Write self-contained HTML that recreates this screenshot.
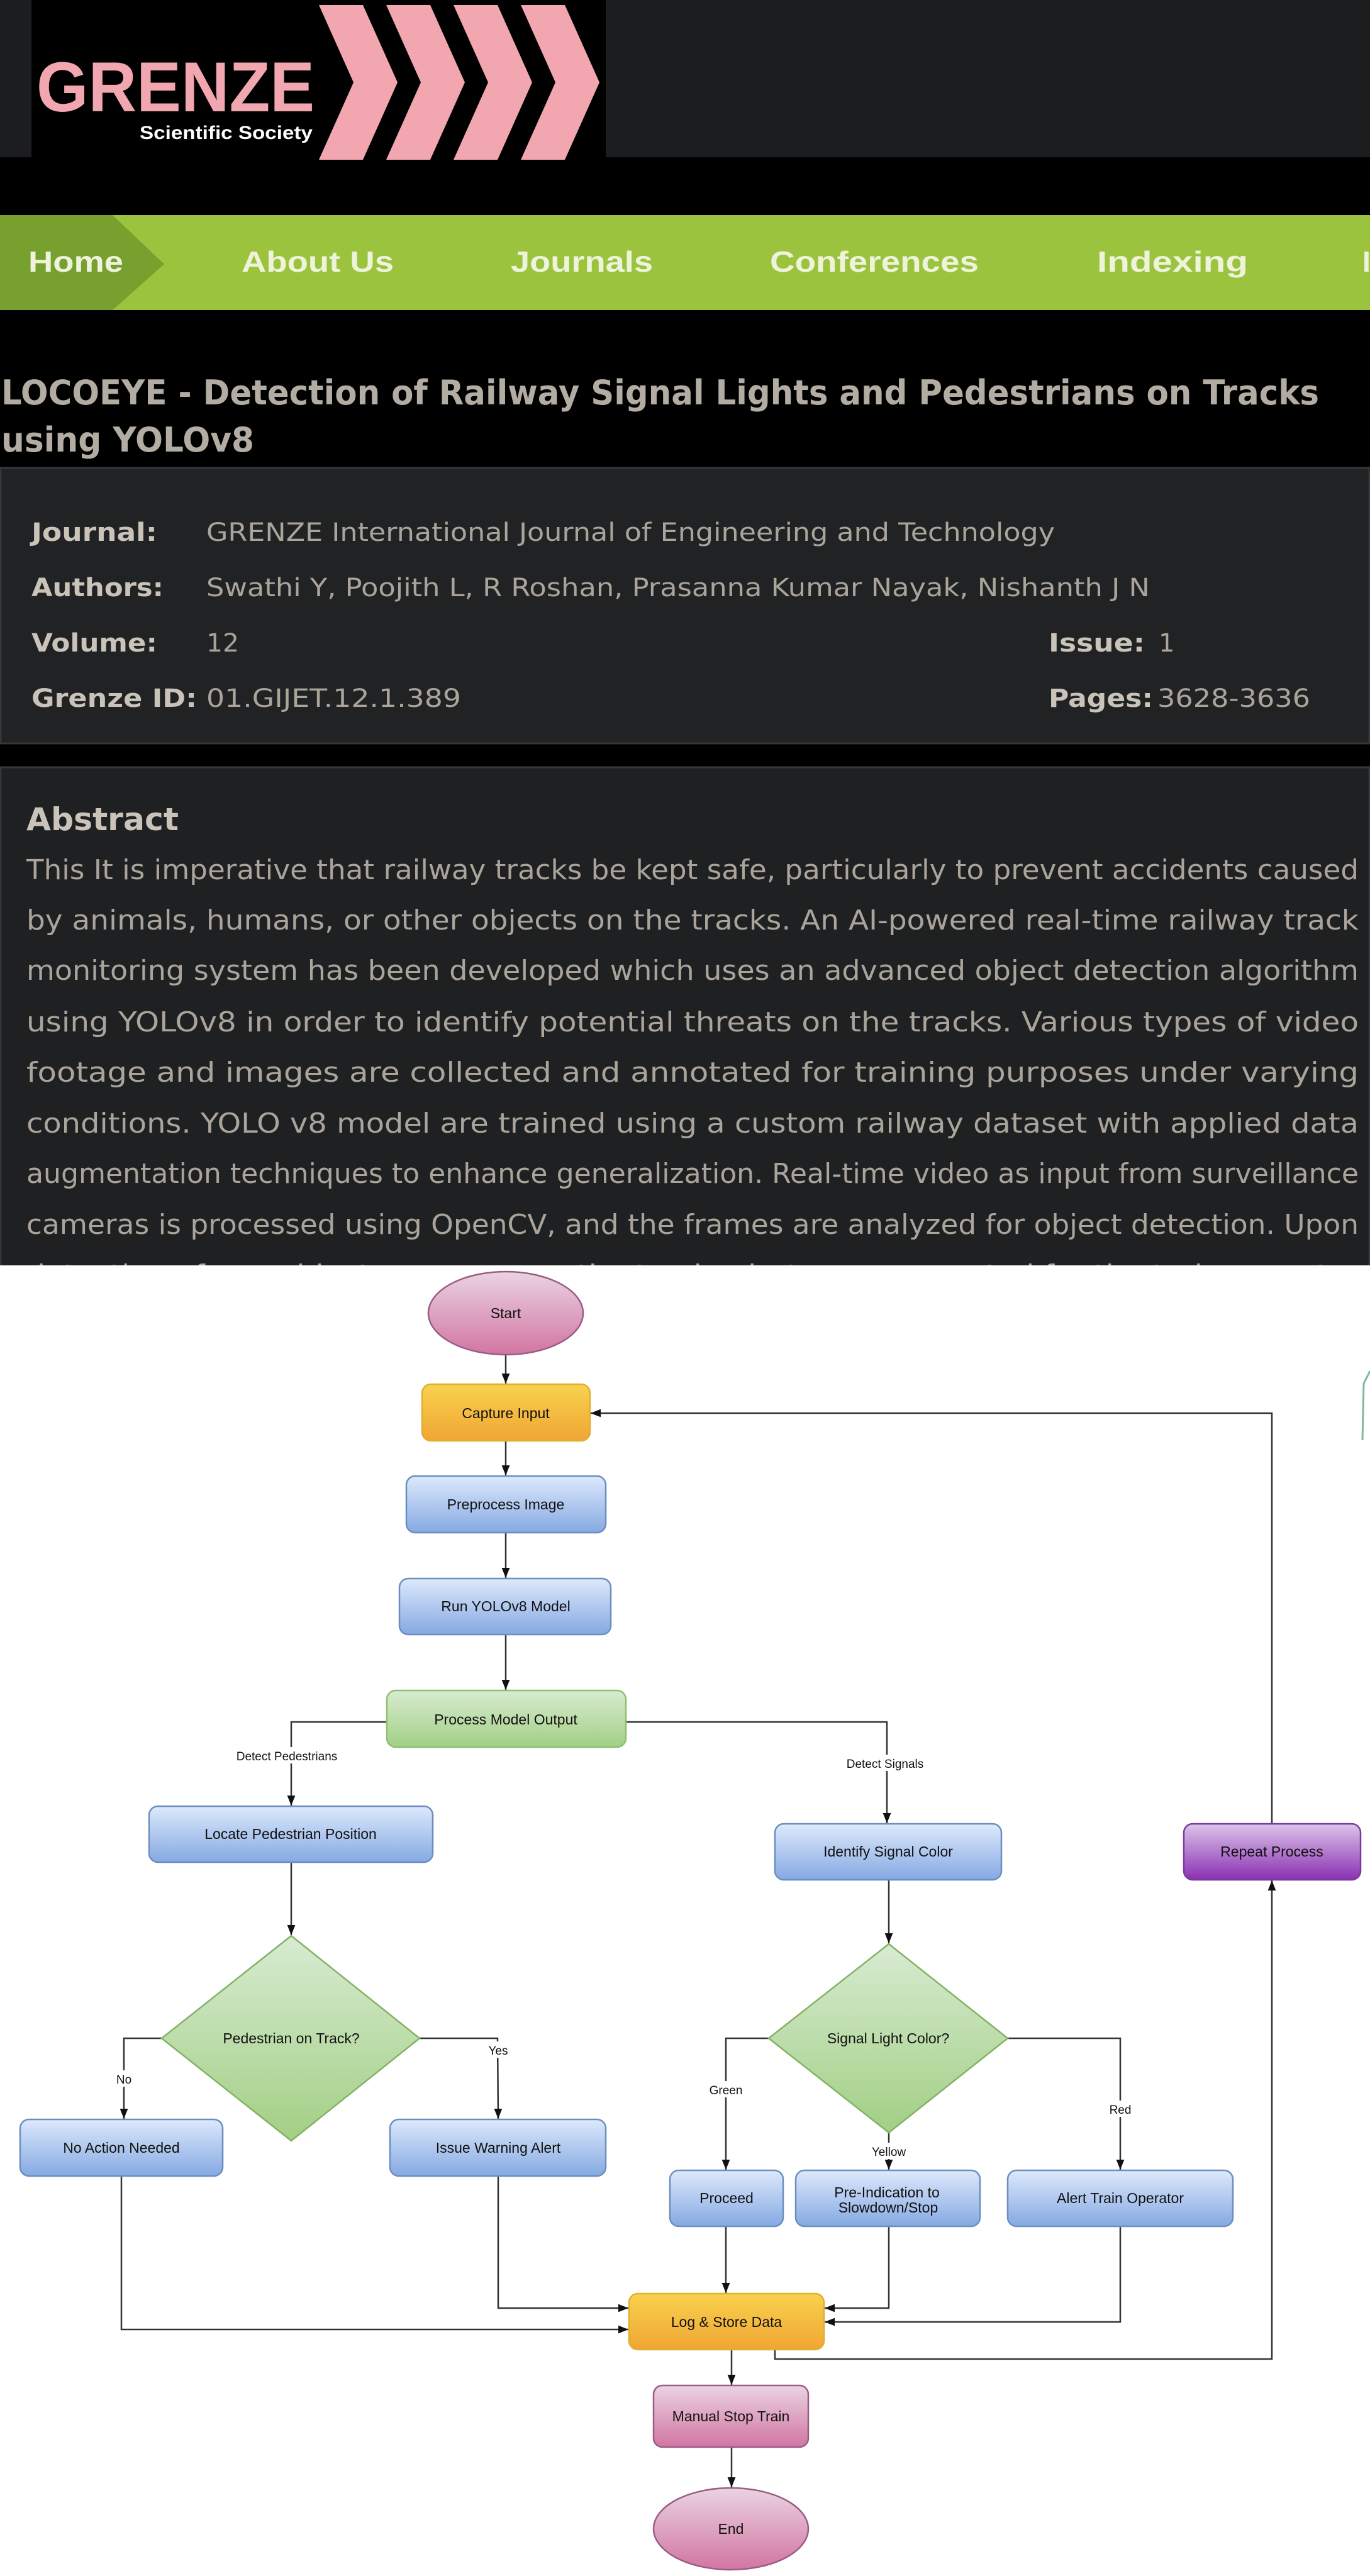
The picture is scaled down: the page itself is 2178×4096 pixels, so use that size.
<!DOCTYPE html>
<html><head><meta charset="utf-8"><style>html,body{margin:0;padding:0;background:#fff}svg{display:block}</style></head>
<body>
<svg width="2178" height="4096" viewBox="0 0 2178 4096" xmlns="http://www.w3.org/2000/svg">
<defs>
<linearGradient id="gb" x1="0" y1="0" x2="0" y2="1"><stop offset="0" stop-color="#dde9fc"/><stop offset="1" stop-color="#85a9e2"/></linearGradient>
<linearGradient id="go" x1="0" y1="0" x2="0" y2="1"><stop offset="0" stop-color="#f9d24e"/><stop offset="1" stop-color="#f0a534"/></linearGradient>
<linearGradient id="gg" x1="0" y1="0" x2="0" y2="1"><stop offset="0" stop-color="#d8ebd2"/><stop offset="1" stop-color="#a2cf84"/></linearGradient>
<linearGradient id="gp" x1="0" y1="0" x2="0" y2="1"><stop offset="0" stop-color="#ead3e2"/><stop offset="1" stop-color="#d275a2"/></linearGradient>
<linearGradient id="gv" x1="0" y1="0" x2="0" y2="1"><stop offset="0" stop-color="#dcc4ea"/><stop offset="1" stop-color="#8a30b2"/></linearGradient>
<marker id="ar" viewBox="0 0 10 10" refX="10" refY="5" markerWidth="8" markerHeight="8" markerUnits="userSpaceOnUse" orient="auto"><path d="M0,0 L10,5 L0,10 z" fill="#111"/></marker>
<marker id="a2" viewBox="0 0 10 10" refX="10" refY="5" markerWidth="16" markerHeight="16" markerUnits="userSpaceOnUse" orient="auto"><path d="M0,1 L10,5 L0,9 z" fill="#111"/></marker>
</defs>

<!-- top dark area -->
<rect x="0" y="0" width="2178" height="2012" fill="#000"/>
<rect x="0" y="0" width="2178" height="250" fill="#1c1d1f"/>
<rect x="50" y="0" width="913" height="250" fill="#000"/>
<text x="58" y="177" font-family="Liberation Sans, sans-serif" font-weight="bold" font-size="112" fill="#f2a7b0" textLength="442" lengthAdjust="spacingAndGlyphs">GRENZE</text>
<text x="222" y="221" font-family="Liberation Sans, sans-serif" font-weight="bold" font-size="30" fill="#fff" textLength="275" lengthAdjust="spacingAndGlyphs">Scientific Society</text>
<g fill="#f2a7b0">
<polygon points="507,8 577,8 632,131 577,254 507,254 562,131"/>
<polygon points="614,8 684,8 739,131 684,254 614,254 669,131"/>
<polygon points="721,8 791,8 846,131 791,254 721,254 776,131"/>
<polygon points="828,8 898,8 953,131 898,254 828,254 883,131"/>
</g>

<!-- nav -->
<rect x="0" y="342" width="2178" height="151" fill="#9cc33e"/>
<polygon points="0,342 179,342 261,420 179,493 0,493" fill="#78a02e"/>
<g font-family="Liberation Sans, sans-serif" font-weight="bold" font-size="46" fill="#eef4dc">
<text x="45" y="432" textLength="151" lengthAdjust="spacingAndGlyphs">Home</text>
<text x="384" y="432" textLength="242" lengthAdjust="spacingAndGlyphs">About Us</text>
<text x="812" y="432" textLength="226" lengthAdjust="spacingAndGlyphs">Journals</text>
<text x="1224" y="432" textLength="332" lengthAdjust="spacingAndGlyphs">Conferences</text>
<text x="1744" y="432" textLength="240" lengthAdjust="spacingAndGlyphs">Indexing</text>
<text x="2166" y="432">I</text>
</g>

<!-- title -->
<g font-family="DejaVu Sans, sans-serif" font-weight="bold" font-size="54" fill="#b3aca3">
<text x="2" y="643" textLength="2095" lengthAdjust="spacingAndGlyphs">LOCOEYE - Detection of Railway Signal Lights and Pedestrians on Tracks</text>
<text x="2" y="718" textLength="402" lengthAdjust="spacingAndGlyphs">using YOLOv8</text>
</g>

<!-- info box -->
<rect x="1" y="744" width="2176" height="438" fill="#202224" stroke="#34373a" stroke-width="3"/>
<g font-family="DejaVu Sans, sans-serif" font-size="40">
<g font-weight="bold" fill="#c9c3b9">
<text x="50" y="860" textLength="200" lengthAdjust="spacingAndGlyphs">Journal:</text>
<text x="50" y="948" textLength="210" lengthAdjust="spacingAndGlyphs">Authors:</text>
<text x="50" y="1036" textLength="200" lengthAdjust="spacingAndGlyphs">Volume:</text>
<text x="50" y="1124" textLength="263" lengthAdjust="spacingAndGlyphs">Grenze ID:</text>
<text x="1667" y="1036" textLength="153" lengthAdjust="spacingAndGlyphs">Issue:</text>
<text x="1667" y="1124" textLength="166" lengthAdjust="spacingAndGlyphs">Pages:</text>
</g>
<g fill="#aaa49b">
<text x="328" y="860" textLength="1349" lengthAdjust="spacingAndGlyphs">GRENZE International Journal of Engineering and Technology</text>
<text x="328" y="948" textLength="1500" lengthAdjust="spacingAndGlyphs">Swathi Y, Poojith L, R Roshan, Prasanna Kumar Nayak, Nishanth J N</text>
<text x="328" y="1036" textLength="52" lengthAdjust="spacingAndGlyphs">12</text>
<text x="328" y="1124" textLength="405" lengthAdjust="spacingAndGlyphs">01.GIJET.12.1.389</text>
<text x="1842" y="1036">1</text>
<text x="1840" y="1124" textLength="243" lengthAdjust="spacingAndGlyphs">3628-3636</text>
</g>
</g>

<!-- abstract -->
<rect x="1" y="1220" width="2176" height="900" fill="#1e2022" stroke="#34373a" stroke-width="3"/>
<text x="42" y="1320" font-family="DejaVu Sans, sans-serif" font-weight="bold" font-size="50" fill="#c9c3b9" textLength="242" lengthAdjust="spacingAndGlyphs">Abstract</text>
<g font-family="DejaVu Sans, sans-serif" font-size="44" fill="#aaa49b" lengthAdjust="spacing">
<text x="42" y="1398" textLength="2118" lengthAdjust="spacingAndGlyphs">This It is imperative that railway tracks be kept safe, particularly to prevent accidents caused</text>
<text x="42" y="1478" textLength="2118" lengthAdjust="spacingAndGlyphs">by animals, humans, or other objects on the tracks. An AI-powered real-time railway track</text>
<text x="42" y="1558" textLength="2118" lengthAdjust="spacingAndGlyphs">monitoring system has been developed which uses an advanced object detection algorithm</text>
<text x="42" y="1640" textLength="2118" lengthAdjust="spacingAndGlyphs">using YOLOv8 in order to identify potential threats on the tracks. Various types of video</text>
<text x="42" y="1720" textLength="2118" lengthAdjust="spacingAndGlyphs">footage and images are collected and annotated for training purposes under varying</text>
<text x="42" y="1801" textLength="2118" lengthAdjust="spacingAndGlyphs">conditions. YOLO v8 model are trained using a custom railway dataset with applied data</text>
<text x="42" y="1881" textLength="2118" lengthAdjust="spacingAndGlyphs">augmentation techniques to enhance generalization. Real-time video as input from surveillance</text>
<text x="42" y="1962" textLength="2118" lengthAdjust="spacingAndGlyphs">cameras is processed using OpenCV, and the frames are analyzed for object detection. Upon</text>
<text x="42" y="2042" textLength="2118" lengthAdjust="spacingAndGlyphs">detection of any object or person on the track, alerts are generated for the train operator</text>
</g>

<!-- white diagram area -->
<rect x="0" y="2012" width="2178" height="2084" fill="#fff"/>
<path d="M2178,2180 L2168,2200 L2166,2290" fill="none" stroke="#2e8b57" stroke-width="3" opacity="0.6"/>

<!-- connectors -->
<g fill="none" stroke="#333" stroke-width="2.5">
<line x1="804" y1="2155" x2="804" y2="2200" marker-end="url(#a2)"/>
<line x1="804" y1="2291" x2="804" y2="2346" marker-end="url(#a2)"/>
<line x1="804" y1="2437" x2="804" y2="2509" marker-end="url(#a2)"/>
<line x1="804" y1="2599" x2="804" y2="2687" marker-end="url(#a2)"/>
<polyline points="615,2738 463,2738 463,2871" marker-end="url(#a2)"/>
<polyline points="995,2738 1410,2738 1410,2899" marker-end="url(#a2)"/>
<polyline points="2022,2900 2022,2247 939,2247" marker-end="url(#a2)"/>
<line x1="463" y1="2961" x2="463" y2="3077" marker-end="url(#a2)"/>
<line x1="1413" y1="2989" x2="1413" y2="3090" marker-end="url(#a2)"/>
<polyline points="257,3241 197,3241 197,3369" marker-end="url(#a2)"/>
<polyline points="667,3241 791,3241 792,3369" marker-end="url(#a2)"/>
<polyline points="1222,3241 1154,3241 1154,3450" marker-end="url(#a2)"/>
<line x1="1413" y1="3391" x2="1413" y2="3450" marker-end="url(#a2)"/>
<polyline points="1602,3241 1781,3241 1781,3450" marker-end="url(#a2)"/>
<line x1="1154" y1="3540" x2="1154" y2="3646" marker-end="url(#a2)"/>
<polyline points="792,3460 792,3670 999,3670" marker-end="url(#a2)"/>
<polyline points="193,3460 193,3704 999,3704" marker-end="url(#a2)"/>
<polyline points="1413,3540 1413,3670 1311,3670" marker-end="url(#a2)"/>
<polyline points="1781,3540 1781,3692 1311,3692" marker-end="url(#a2)"/>
<polyline points="1232,3736 1232,3751 2022,3751 2022,2990" marker-end="url(#a2)"/>
<line x1="1163" y1="3736" x2="1163" y2="3792" marker-end="url(#a2)"/>
<line x1="1163" y1="3891" x2="1163" y2="3955" marker-end="url(#a2)"/>
</g>

<!-- edge labels -->
<g font-family="Liberation Sans, sans-serif" font-size="19" fill="#111" text-anchor="middle">
<rect x="360" y="2778" width="194" height="26" fill="#fff"/><text x="456" y="2799">Detect Pedestrians</text>
<rect x="1334" y="2790" width="148" height="26" fill="#fff"/><text x="1407" y="2811">Detect Signals</text>
<rect x="184" y="3292" width="28" height="26" fill="#fff"/><text x="197" y="3313">No</text>
<rect x="776" y="3246" width="34" height="26" fill="#fff"/><text x="792" y="3267">Yes</text>
<rect x="1124" y="3309" width="60" height="26" fill="#fff"/><text x="1154" y="3330">Green</text>
<rect x="1380" y="3407" width="66" height="26" fill="#fff"/><text x="1413" y="3428">Yellow</text>
<rect x="1762" y="3340" width="38" height="26" fill="#fff"/><text x="1781" y="3361">Red</text>
</g>

<!-- nodes -->
<g stroke-width="2.5">
<ellipse cx="804" cy="2088" rx="123" ry="66" fill="url(#gp)" stroke="#9a5c85"/>
<rect x="671" y="2201" width="267" height="90" rx="14" fill="url(#go)" stroke="#e0b030"/>
<rect x="646" y="2347" width="317" height="90" rx="14" fill="url(#gb)" stroke="#6c8ebf"/>
<rect x="635" y="2510" width="336" height="89" rx="14" fill="url(#gb)" stroke="#6c8ebf"/>
<rect x="615" y="2688" width="380" height="90" rx="14" fill="url(#gg)" stroke="#8ec06e"/>
<rect x="237" y="2872" width="451" height="89" rx="14" fill="url(#gb)" stroke="#6c8ebf"/>
<rect x="1232" y="2900" width="360" height="89" rx="14" fill="url(#gb)" stroke="#6c8ebf"/>
<rect x="1882" y="2900" width="281" height="89" rx="14" fill="url(#gv)" stroke="#7a3aa0"/>
<polygon points="463,3078 667,3241 463,3404 257,3241" fill="url(#gg)" stroke="#82b366"/>
<polygon points="1413,3091 1602,3241 1413,3391 1222,3241" fill="url(#gg)" stroke="#82b366"/>
<rect x="32" y="3370" width="322" height="90" rx="14" fill="url(#gb)" stroke="#6c8ebf"/>
<rect x="620" y="3370" width="343" height="90" rx="14" fill="url(#gb)" stroke="#6c8ebf"/>
<rect x="1065" y="3451" width="180" height="89" rx="14" fill="url(#gb)" stroke="#6c8ebf"/>
<rect x="1265" y="3451" width="293" height="89" rx="14" fill="url(#gb)" stroke="#6c8ebf"/>
<rect x="1602" y="3451" width="358" height="89" rx="14" fill="url(#gb)" stroke="#6c8ebf"/>
<rect x="1000" y="3647" width="310" height="89" rx="14" fill="url(#go)" stroke="#e0b030"/>
<rect x="1039" y="3793" width="246" height="98" rx="14" fill="url(#gp)" stroke="#9a5c85"/>
<ellipse cx="1162" cy="4021" rx="123" ry="65" fill="url(#gp)" stroke="#9a5c85"/>
</g>

<g font-family="Liberation Sans, sans-serif" font-size="23" fill="#111" text-anchor="middle">
<text x="804" y="2096">Start</text>
<text x="804" y="2255">Capture Input</text>
<text x="804" y="2400">Preprocess Image</text>
<text x="804" y="2562">Run YOLOv8 Model</text>
<text x="804" y="2742">Process Model Output</text>
<text x="462" y="2924">Locate Pedestrian Position</text>
<text x="1412" y="2952">Identify Signal Color</text>
<text x="2022" y="2952">Repeat Process</text>
<text x="463" y="3249">Pedestrian on Track?</text>
<text x="1412" y="3249">Signal Light Color?</text>
<text x="193" y="3423">No Action Needed</text>
<text x="792" y="3423">Issue Warning Alert</text>
<text x="1155" y="3503">Proceed</text>
<text x="1410" y="3494">Pre-Indication to</text>
<text x="1412" y="3518">Slowdown/Stop</text>
<text x="1781" y="3503">Alert Train Operator</text>
<text x="1155" y="3700">Log &amp; Store Data</text>
<text x="1162" y="3850">Manual Stop Train</text>
<text x="1162" y="4029">End</text>
</g>
</svg>
</body></html>
